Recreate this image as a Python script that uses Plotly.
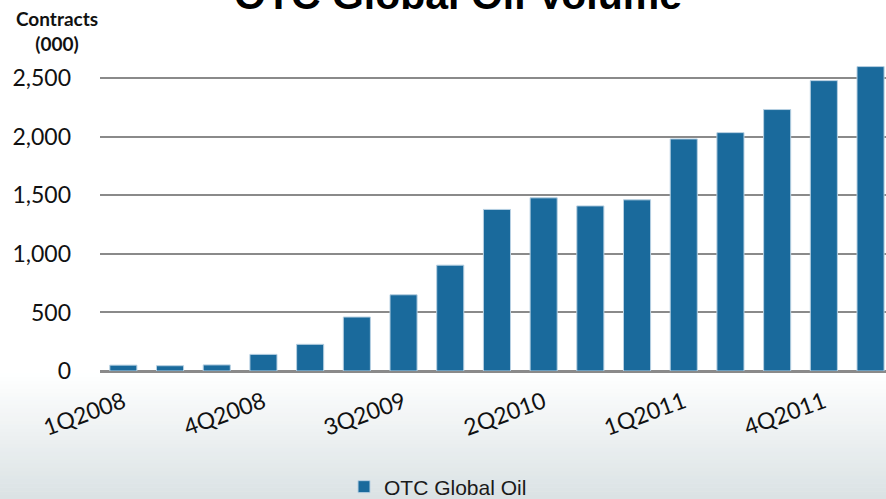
import plotly.graph_objects as go

# Quarterly OTC global oil volume, thousands of contracts
quarters = [
    "1Q2008", "2Q2008", "3Q2008", "4Q2008",
    "1Q2009", "2Q2009", "3Q2009", "4Q2009",
    "1Q2010", "2Q2010", "3Q2010", "4Q2010",
    "1Q2011", "2Q2011", "3Q2011", "4Q2011",
    "1Q2012",
]
volume = [
    50, 45, 52, 142,
    228, 461, 651, 904,
    1380, 1479, 1410, 1462,
    1982, 2036, 2233, 2480,
    2600,
]
tick_labels = quarters[::3]
y_ticks = [0, 500, 1000, 1500, 2000, 2500]

W, H = 886, 499
M_L, M_R, M_T, M_B = 100, 0, 40, 128
plot_h = H - M_T - M_B

BAR = "#1a6a9c"
label_font = "Lato, 'Open Sans', sans-serif"

fig = go.Figure()
fig.add_trace(go.Bar(
    x=quarters, y=volume, name="OTC Global Oil",
    marker=dict(color=BAR, line=dict(color="#b7d0e2", width=1)),
))

# soft grey-blue fade under the axis
shapes = []
n = 32
top_px, bot_px = H - M_B + 2, H
c0, c1 = (255, 255, 255), (218, 226, 228)
for i in range(n):
    t = (i + 0.5) / n
    col = tuple(round(a + (b - a) * t) for a, b in zip(c0, c1))
    ya = top_px + (bot_px - top_px) * i / n
    yb = top_px + (bot_px - top_px) * (i + 1) / n + 0.6
    shapes.append(dict(
        type="rect", xref="paper", yref="paper", layer="below",
        x0=-M_L / (W - M_L) - 0.01, x1=1.01,
        y0=(H - M_B - ya) / plot_h, y1=(H - M_B - yb) / plot_h,
        line=dict(width=0), fillcolor="rgb(%d,%d,%d)" % col,
    ))

fig.update_layout(
    width=W, height=H,
    margin=dict(l=M_L, r=M_R, t=M_T, b=M_B, autoexpand=False),
    paper_bgcolor="white", plot_bgcolor="rgba(0,0,0,0)",
    bargap=0.42,
    shapes=shapes,
    showlegend=True,
    legend=dict(
        orientation="h", x=(438 - M_L) / (W - M_L), xanchor="center",
        y=(H - M_B - 487) / plot_h, yanchor="middle",
        font=dict(family="Arial, 'Liberation Sans', sans-serif", size=21, color="#1a1a1a"),
        bgcolor="rgba(0,0,0,0)", itemwidth=30,
    ),
    xaxis=dict(
        type="category", range=[-0.5, -0.5 + (W - M_L) / 46.7],
        tickmode="array", tickvals=tick_labels, ticktext=tick_labels,
        tickangle=-20, showgrid=False, ticks="", ticklabelstandoff=7,
        showline=True, linecolor="#8a8a8a", linewidth=2,
        tickfont=dict(family=label_font, size=23, color="#111"),
    ),
    yaxis=dict(
        range=[0, plot_h / 0.11708], tickvals=y_ticks,
        tickformat=",d", showgrid=True, gridcolor="#8a8a8a", gridwidth=2,
        zeroline=True, zerolinecolor="#8a8a8a", zerolinewidth=2,
        ticks="", ticklabelstandoff=28,
        tickfont=dict(family=label_font, size=23, color="#111"),
    ),
    annotations=[
        dict(
            text="<b>OTC Global Oil Volume</b>", xref="paper", yref="paper",
            x=(458 - M_L) / (W - M_L), y=1 + (M_T - 20) / plot_h,
            xanchor="center", yanchor="bottom", showarrow=False,
            font=dict(family="Arial, 'Liberation Sans', sans-serif", size=41, color="#000"),
        ),
        dict(
            text="<b>Contracts</b><br><b>(000)</b>", xref="paper", yref="paper",
            x=(57 - M_L) / (W - M_L), y=1 + (M_T - 57) / plot_h,
            xanchor="center", yanchor="bottom", showarrow=False, align="center",
            font=dict(family=label_font, size=19, color="#111"),
        ),
    ],
)

fig.write_html("out.html")
